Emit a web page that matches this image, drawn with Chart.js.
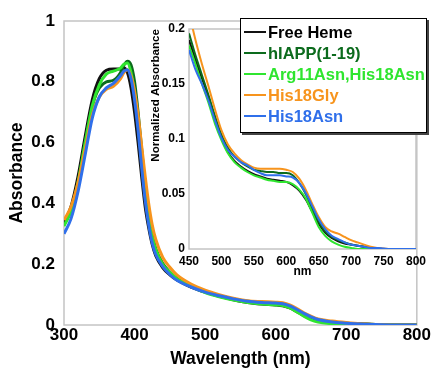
<!DOCTYPE html>
<html>
<head>
<meta charset="utf-8">
<script src="https://cdn.jsdelivr.net/npm/chart.js@4.4.1/dist/chart.umd.min.js"></script>
<style>
  html, body { margin: 0; padding: 0; background: #fff; }
  #wrap { position: relative; width: 431px; height: 368px; overflow: hidden; }
  #wrap canvas { position: absolute; left: 0; top: 0; }
  #legend {
    position: absolute; left: 240px; top: 18px; width: 187px; height: 115px;
    box-sizing: border-box; border: 1.5px solid #000; background: #fff;
    box-shadow: 2px 2px 0 #444;
    font-family: "Liberation Sans", Arial, sans-serif; font-weight: bold; font-size: 16.5px;
  }
  #legend .row { position: absolute; left: 0; height: 21px; width: 100%; }
  #legend .swatch { position: absolute; left: 3px; top: 9px; width: 22px; height: 2px; }
  #legend .label { position: absolute; left: 27px; top: 0; line-height: 21px; white-space: nowrap; }
</style>
</head>
<body>
<div id="wrap">
  <canvas id="main" width="431" height="368"></canvas>
  <canvas id="inset" width="431" height="368"></canvas>
  <div id="legend"></div>
</div>
<script>
// series names and colours
var seriesNames = ["Free Heme", "hIAPP(1-19)", "Arg11Asn,His18Asn", "His18Gly", "His18Asn"];
var seriesColors = ["#111111", "#0c6b1d", "#2fe52f", "#f7941d", "#2f6fea"];

// main spectrum (absorbance)
var mainWavelengths = [300, 310, 320, 330, 340, 350, 360, 370, 380, 385, 390, 395, 400, 405, 410, 415, 420, 425, 430, 440,
                       450, 460, 480, 500, 520, 540, 560, 580, 600, 610, 620, 630, 640, 650, 660, 680, 700, 720, 750, 800];
var mainFreeHeme = [0.335, 0.39, 0.49, 0.62, 0.74, 0.81, 0.838, 0.842, 0.842, 0.845, 0.83, 0.78, 0.70, 0.60, 0.49, 0.39, 0.32, 0.265, 0.228, 0.188,
                    0.165, 0.148, 0.125, 0.108, 0.094, 0.083, 0.074, 0.069, 0.066, 0.063, 0.056, 0.044, 0.031, 0.021, 0.014, 0.008, 0.005, 0.003, 0.001, 0];
var mainHIAPP = [0.33, 0.38, 0.47, 0.60, 0.72, 0.78, 0.80, 0.805, 0.83, 0.855, 0.868, 0.855, 0.80, 0.70, 0.58, 0.46, 0.37, 0.30, 0.252, 0.202,
                 0.174, 0.153, 0.128, 0.11, 0.096, 0.086, 0.078, 0.074, 0.072, 0.07, 0.062, 0.049, 0.035, 0.024, 0.016, 0.009, 0.006, 0.004, 0.001, 0];
var mainArgHis = [0.325, 0.375, 0.47, 0.60, 0.72, 0.79, 0.825, 0.835, 0.845, 0.858, 0.862, 0.83, 0.76, 0.66, 0.54, 0.43, 0.35, 0.29, 0.248, 0.198,
                  0.173, 0.152, 0.127, 0.107, 0.093, 0.082, 0.074, 0.069, 0.066, 0.064, 0.056, 0.043, 0.029, 0.017, 0.01, 0.004, 0.001, 0, 0, 0];
var mainHis18Gly = [0.345, 0.39, 0.47, 0.58, 0.69, 0.75, 0.775, 0.785, 0.81, 0.83, 0.84, 0.82, 0.77, 0.69, 0.59, 0.49, 0.40, 0.33, 0.282, 0.222,
                    0.19, 0.165, 0.135, 0.115, 0.1, 0.088, 0.08, 0.077, 0.075, 0.073, 0.066, 0.054, 0.04, 0.029, 0.02, 0.013, 0.008, 0.004, 0.001, 0];
var mainHis18Asn = [0.30, 0.35, 0.44, 0.56, 0.68, 0.75, 0.78, 0.795, 0.82, 0.835, 0.84, 0.81, 0.74, 0.64, 0.52, 0.41, 0.33, 0.27, 0.232, 0.192,
                    0.166, 0.147, 0.125, 0.108, 0.096, 0.086, 0.078, 0.074, 0.072, 0.07, 0.063, 0.051, 0.038, 0.027, 0.018, 0.01, 0.006, 0.003, 0.001, 0];

// inset (normalized absorbance, 450-800 nm)
var insetWavelengths = [450, 460, 470, 480, 490, 500, 510, 520, 530, 540, 550, 560, 570, 580, 590, 600, 610, 620, 630, 640,
                        650, 660, 670, 680, 690, 700, 710, 720, 730, 740, 750, 760, 780, 800];
var insetFreeHeme = [0.19, 0.172, 0.155, 0.138, 0.118, 0.101, 0.088, 0.08, 0.075, 0.071, 0.068, 0.066, 0.064, 0.063, 0.062, 0.061, 0.058, 0.053, 0.045, 0.034,
                     0.023, 0.015, 0.01, 0.007, 0.005, 0.004, 0.003, 0.002, 0.001, 0.0005, 0, 0, 0, 0];
var insetHIAPP = [0.196, 0.176, 0.158, 0.14, 0.121, 0.104, 0.092, 0.084, 0.079, 0.075, 0.072, 0.071, 0.07, 0.07, 0.069, 0.069, 0.067, 0.06, 0.05, 0.037,
                  0.025, 0.016, 0.011, 0.008, 0.006, 0.004, 0.003, 0.002, 0.001, 0.0005, 0, 0, 0, 0];
var insetArgHis = [0.185, 0.168, 0.15, 0.133, 0.114, 0.099, 0.087, 0.079, 0.074, 0.07, 0.067, 0.065, 0.063, 0.062, 0.061, 0.061, 0.059, 0.054, 0.046, 0.033,
                   0.02, 0.012, 0.007, 0.004, 0.002, 0.001, 0, 0, 0, 0, 0, 0, 0, 0];
var insetHis18Gly = [0.215, 0.19, 0.168, 0.148, 0.127, 0.108, 0.095, 0.087, 0.081, 0.077, 0.074, 0.073, 0.073, 0.073, 0.073, 0.072, 0.07, 0.064, 0.054, 0.041,
                     0.029, 0.02, 0.016, 0.014, 0.011, 0.008, 0.006, 0.004, 0.002, 0.001, 0.0005, 0, 0, 0];
var insetHis18Asn = [0.181, 0.163, 0.15, 0.135, 0.117, 0.101, 0.09, 0.084, 0.079, 0.076, 0.072, 0.069, 0.067, 0.067, 0.067, 0.066, 0.065, 0.06, 0.051, 0.039,
                     0.027, 0.018, 0.012, 0.009, 0.006, 0.004, 0.003, 0.002, 0.001, 0.001, 0.0005, 0, 0, 0];

var FONT = "'Liberation Sans', Arial, sans-serif";

function pairs(xs, ys) {
  return xs.map(function (x, i) { return { x: x, y: ys[i] }; });
}

function makeSets(xs, list, width) {
  return list.map(function (ys, i) {
    return {
      label: seriesNames[i],
      data: pairs(xs, ys),
      borderColor: seriesColors[i],
      borderWidth: width,
      pointRadius: 0,
      fill: false,
      cubicInterpolationMode: 'monotone',
      order: list.length - i   // blue on top
    };
  });
}

// "1", "0.8", "0.05" ... without trailing zeros
function plainNum(v) {
  return String(+(+v).toFixed(3));
}

// light grey frame round the plot area
var boxPlugin = {
  id: 'box',
  beforeDatasetsDraw: function (chart) {
    var a = chart.chartArea, c = chart.ctx;
    c.save();
    c.strokeStyle = '#c4c4c4';
    c.lineWidth = 1.5;
    c.strokeRect(a.left, a.top, a.right - a.left, a.bottom - a.top);
    c.restore();
  }
};

function axisFont(size) {
  return { family: FONT, weight: 'bold', size: size };
}

new Chart(document.getElementById('main'), {
  type: 'line',
  data: { datasets: makeSets(mainWavelengths, [mainFreeHeme, mainHIAPP, mainArgHis, mainHis18Gly, mainHis18Asn], 3) },
  options: {
    responsive: false,
    animation: false,
    layout: { padding: { left: 0, top: 21, right: 14, bottom: 0 } },
    plugins: { legend: { display: false }, tooltip: { enabled: false } },
    scales: {
      x: {
        type: 'linear', min: 300, max: 800,
        ticks: { stepSize: 100, font: axisFont(17), color: '#000', padding: 0, maxRotation: 0, callback: plainNum },
        grid: { display: false, drawTicks: false },
        border: { display: false },
        title: { display: true, text: 'Wavelength (nm)', color: '#000', font: { family: FONT, weight: 'bold', size: 17.5, lineHeight: 1 }, padding: 0 },
        afterFit: function (s) { s.height = 43; }
      },
      y: {
        min: 0, max: 1,
        ticks: { stepSize: 0.2, font: axisFont(17), color: '#000', padding: 9, callback: plainNum },
        grid: { display: false, drawTicks: false },
        border: { display: false },
        title: { display: true, text: 'Absorbance', color: '#000', font: { family: FONT, weight: 'bold', size: 17.5, lineHeight: 1 }, padding: { top: 8, bottom: 0 } },
        afterFit: function (s) { s.width = 64; }
      }
    }
  },
  plugins: [boxPlugin]
});

new Chart(document.getElementById('inset'), {
  type: 'line',
  data: { datasets: makeSets(insetWavelengths, [insetFreeHeme, insetHIAPP, insetArgHis, insetHis18Gly, insetHis18Asn], 2) },
  options: {
    responsive: false,
    animation: false,
    layout: { padding: { left: 140, top: 29, right: 14, bottom: 90 } },
    plugins: { legend: { display: false }, tooltip: { enabled: false } },
    scales: {
      x: {
        type: 'linear', min: 450, max: 800,
        ticks: { stepSize: 50, font: axisFont(12), color: '#000', padding: 5, maxRotation: 0, callback: plainNum },
        grid: { display: false, drawTicks: false },
        border: { display: false },
        title: { display: true, text: 'nm', color: '#000', font: { family: FONT, weight: 'bold', size: 12, lineHeight: 1 }, padding: 0 },
        afterFit: function (s) { s.height = 29; }
      },
      y: {
        min: 0, max: 0.2,
        ticks: { stepSize: 0.05, font: axisFont(12), color: '#000', padding: 4, callback: plainNum },
        grid: { display: false, drawTicks: false },
        border: { display: false },
        title: { display: true, text: 'Normalized Absorbance', align: 'end', color: '#000', font: { family: FONT, weight: 'bold', size: 11.6, lineHeight: 1 }, padding: { top: 10, bottom: 0 } },
        afterFit: function (s) { s.width = 49; }
      }
    }
  },
  plugins: [boxPlugin]
});

// legend box
var legend = document.getElementById('legend');
seriesNames.forEach(function (name, i) {
  var row = document.createElement('div');
  row.className = 'row';
  row.style.top = (3.3 + i * 21) + 'px';
  var sw = document.createElement('div');
  sw.className = 'swatch';
  sw.style.background = seriesColors[i];
  var lb = document.createElement('span');
  lb.className = 'label';
  lb.style.color = i === 0 ? '#000' : seriesColors[i];
  lb.textContent = name;
  row.appendChild(sw);
  row.appendChild(lb);
  legend.appendChild(row);
});
</script>
</body>
</html>
